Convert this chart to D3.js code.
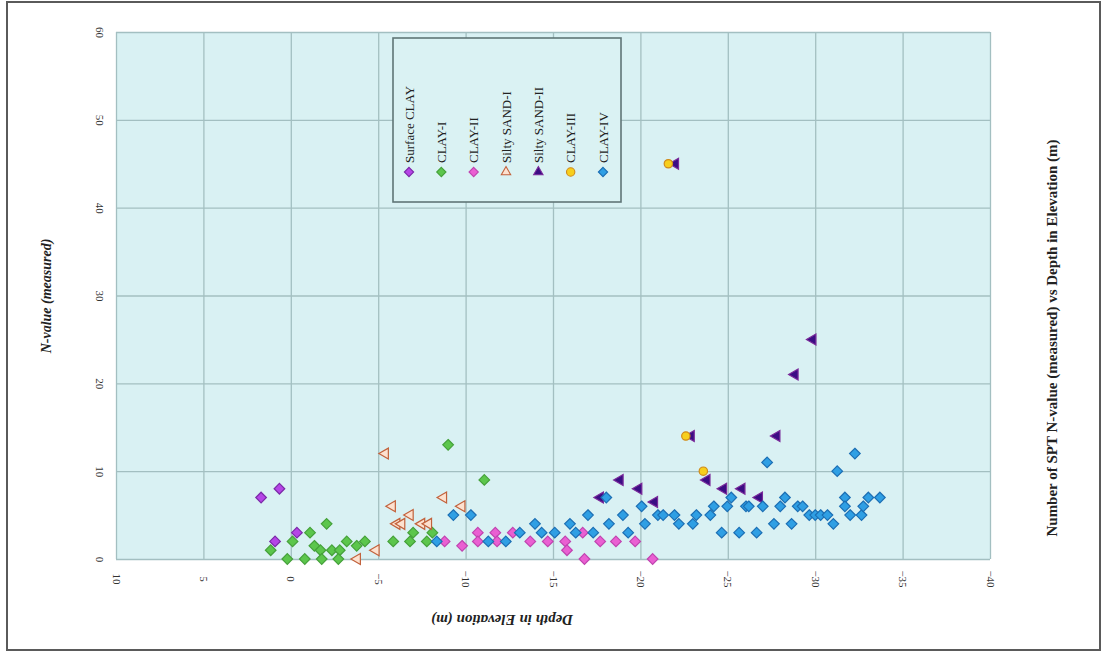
<!DOCTYPE html>
<html>
<head>
<meta charset="utf-8">
<script src="https://cdn.jsdelivr.net/npm/d3@7/dist/d3.min.js"></script>
<style>
  html, body { margin: 0; padding: 0; background: #ffffff; }
  svg { display: block; }
  text { font-family: "Liberation Serif", "Times New Roman", serif; }
</style>
</head>
<body>
<svg id="chart" width="1104" height="655"></svg>
<script>
// Elevation (m) and measured SPT N-value for each soil layer
const surfaceClay = [[1.7, 7], [0.65, 8], [-0.35, 3], [0.9, 2]];
const clayI = [[1.15, 1], [0.2, 0], [-0.1, 2], [-0.8, 0], [-1.1, 3], [-2.05, 4], [-1.35, 1.5],
  [-1.7, 1], [-1.77, 0], [-2.35, 1], [-2.8, 1], [-2.72, 0], [-3.2, 2], [-3.77, 1.5], [-4.24, 2],
  [-5.86, 2], [-6.82, 2], [-7.0, 3], [-7.78, 2], [-8.1, 3], [-9.0, 13], [-11.07, 9]];
const clayII = [[-8.8, 2], [-9.8, 1.5], [-10.7, 3], [-10.7, 2], [-11.7, 3], [-11.8, 2], [-12.7, 3],
  [-13.7, 2], [-14.7, 2], [-15.7, 2], [-15.8, 1], [-16.7, 3], [-16.8, 0], [-17.7, 2], [-18.6, 2],
  [-19.7, 2], [-20.7, 0]];
const siltySandI = [[-5.4, 12], [-5.8, 6], [-6.06, 4], [-4.87, 1], [-3.8, 0], [-6.82, 5], [-6.34, 4],
  [-7.48, 4], [-7.87, 4], [-8.73, 7], [-9.78, 6]];
const siltySandII = [[-17.7, 7], [-18.83, 9], [-19.9, 8], [-20.8, 6.5], [-22.0, 45], [-22.9, 14],
  [-23.8, 9], [-24.75, 8], [-25.8, 8], [-26.8, 7], [-27.8, 14], [-28.84, 21], [-29.86, 25]];
const clayIII = [[-21.6, 45], [-22.6, 14], [-23.6, 10]];
const clayIV = [[-8.35, 2], [-9.3, 5], [-10.3, 5], [-11.3, 2], [-12.3, 2], [-13.1, 3], [-13.97, 4],
  [-14.35, 3], [-15.1, 3], [-15.97, 4], [-16.3, 3], [-17.0, 5], [-17.3, 3], [-18.05, 7], [-18.2, 4],
  [-19.0, 5], [-19.3, 3], [-20.07, 6], [-20.26, 4], [-21.0, 5], [-21.3, 5], [-21.95, 5], [-22.2, 4],
  [-23.0, 4], [-23.2, 5], [-24.0, 5], [-24.2, 6], [-24.65, 3], [-24.97, 6], [-25.2, 7], [-25.65, 3],
  [-26.04, 6], [-26.2, 6], [-26.65, 3], [-27.0, 6], [-27.25, 11], [-27.64, 4], [-28.0, 6], [-28.27, 7],
  [-28.65, 4], [-29.0, 6], [-29.28, 6], [-29.66, 5], [-30.0, 5], [-30.31, 5], [-30.7, 5], [-31.04, 4],
  [-31.26, 10], [-31.7, 7], [-31.7, 6], [-32.0, 5], [-32.27, 12], [-32.65, 5], [-32.75, 6],
  [-33.04, 7], [-33.7, 7]];

const layerNames = ["Surface CLAY", "CLAY-I", "CLAY-II", "Silty SAND-I", "Silty SAND-II", "CLAY-III", "CLAY-IV"];
const xTicks = [10, 5, 0, -5, -10, -15, -20, -25, -30, -35, -40];
const yTicks = [0, 10, 20, 30, 40, 50, 60];

const layers = [
  { name: layerNames[0], data: surfaceClay, shape: "diamond", fill: "#b545e6", stroke: "#7b2aa8" },
  { name: layerNames[1], data: clayI, shape: "diamond", fill: "#5cc64c", stroke: "#45a13a" },
  { name: layerNames[2], data: clayII, shape: "diamond", fill: "#ea5fd2", stroke: "#c044b0" },
  { name: layerNames[3], data: siltySandI, shape: "triangle", fill: "#fde1cf", stroke: "#c2623c" },
  { name: layerNames[4], data: siltySandII, shape: "triangle", fill: "#3b0d84", stroke: "#7a2a9a" },
  { name: layerNames[5], data: clayIII, shape: "circle", fill: "#f7cf1c", stroke: "#d08a1a" },
  { name: layerNames[6], data: clayIV, shape: "diamond", fill: "#2f9fe4", stroke: "#1c6fb4" }
];

const svg = d3.select("#chart");

// outer frame
svg.append("rect").attr("x", 7).attr("y", 2).attr("width", 1093).attr("height", 648)
  .attr("fill", "#ffffff").attr("stroke", "#5a5a5a").attr("stroke-width", 2);

const x = d3.scaleLinear().domain([10, -40]).range([116, 990]);
const y = d3.scaleLinear().domain([0, 60]).range([559, 32]);

// plot area
svg.append("rect").attr("x", x(10)).attr("y", y(60))
  .attr("width", x(-40) - x(10)).attr("height", y(0) - y(60))
  .attr("fill", "#d9f1f3");

// grid lines drawn by the axes
const gridX = svg.append("g").attr("transform", `translate(0,${y(0)})`)
  .call(d3.axisBottom(x).tickValues(xTicks).tickSize(-(y(0) - y(60))).tickFormat(""));
const gridY = svg.append("g").attr("transform", `translate(${x(10)},0)`)
  .call(d3.axisLeft(y).tickValues(yTicks).tickSize(-(x(-40) - x(10))).tickFormat(""));
[gridX, gridY].forEach(g => {
  g.select(".domain").remove();
  g.selectAll(".tick line").attr("stroke", "#a3bfc1").attr("stroke-width", 1.3);
});

// tick labels (rotated)
const xLab = svg.append("g").attr("transform", `translate(0,${y(0)})`)
  .call(d3.axisBottom(x).tickValues(xTicks).tickSize(0).tickPadding(0).tickFormat(d3.format("d")));
xLab.select(".domain").remove();
xLab.selectAll(".tick text")
  .attr("transform", "translate(0,20) rotate(90)")
  .attr("x", 0).attr("y", 0).attr("dy", "0.35em")
  .attr("text-anchor", "middle")
  .style("font-family", "'Liberation Serif', serif").style("font-size", "11px").attr("fill", "#333");

const yLab = svg.append("g").attr("transform", `translate(${x(10)},0)`)
  .call(d3.axisLeft(y).tickValues(yTicks).tickSize(0).tickPadding(0).tickFormat(d3.format("d")));
yLab.select(".domain").remove();
yLab.selectAll(".tick text")
  .attr("transform", "translate(-16,0) rotate(90)")
  .attr("x", 0).attr("y", 0).attr("dy", "0.35em")
  .attr("text-anchor", "middle")
  .style("font-family", "'Liberation Serif', serif").style("font-size", "11px").attr("fill", "#333");

// marker paths
const diamond = d3.symbol().type(d3.symbolDiamond2).size(72)();
const triangle = d3.symbol().type(d3.symbolTriangle).size(52)();
const circle = d3.symbol().type(d3.symbolCircle).size(55)();
const legendTriangle = d3.symbol().type(d3.symbolTriangle).size(38)();
const legendDiamond = d3.symbol().type(d3.symbolDiamond2).size(55)();
function markerPath(shape, inLegend) {
  if (shape === "diamond") return inLegend ? legendDiamond : diamond;
  if (shape === "triangle") return inLegend ? legendTriangle : triangle;
  return circle;
}

// data points
layers.forEach(layer => {
  svg.append("g").selectAll("path").data(layer.data).join("path")
    .attr("d", markerPath(layer.shape, false))
    .attr("transform", d => `translate(${x(d[0])},${y(d[1])})` + (layer.shape === "triangle" ? " rotate(-90)" : ""))
    .attr("fill", layer.fill)
    .attr("stroke", layer.stroke)
    .attr("stroke-width", 1.2);
});

// legend
const lg = svg.append("g");
lg.append("rect").attr("x", 393).attr("y", 38).attr("width", 228).attr("height", 164)
  .attr("fill", "#daf2f3").attr("stroke", "#5f7576").attr("stroke-width", 1.6);
const legX = d3.scalePoint().domain(layerNames).range([409, 603]);
layers.forEach(layer => {
  const cx = legX(layer.name);
  lg.append("path").attr("d", markerPath(layer.shape, true))
    .attr("transform", `translate(${cx},172)`)
    .attr("fill", layer.fill).attr("stroke", layer.stroke).attr("stroke-width", 1.1);
  lg.append("text").attr("transform", `translate(${cx},163) rotate(-90)`)
    .attr("dy", "0.35em").attr("text-anchor", "start")
    .style("font-size", "13px").attr("fill", "#222")
    .text(layer.name);
});

// axis titles
svg.append("text").attr("transform", "translate(46,296) rotate(-90)")
  .attr("text-anchor", "middle").attr("dy", "0.35em")
  .style("font-size", "14px").style("font-weight", "bold").style("font-style", "italic")
  .attr("fill", "#222").text("N-value (measured)");

svg.append("text").attr("transform", "translate(502,620) rotate(180)")
  .attr("text-anchor", "middle").attr("dy", "0.35em")
  .style("font-size", "15px").style("font-weight", "bold").style("font-style", "italic")
  .attr("fill", "#222").text("Depth in Elevation (m)");

svg.append("text").attr("transform", "translate(1052,338) rotate(-90)")
  .attr("text-anchor", "middle").attr("dy", "0.35em")
  .style("font-size", "15px").style("font-weight", "bold")
  .attr("fill", "#222").text("Number of SPT N-value (measured) vs Depth in Elevation (m)");
</script>
</body>
</html>
